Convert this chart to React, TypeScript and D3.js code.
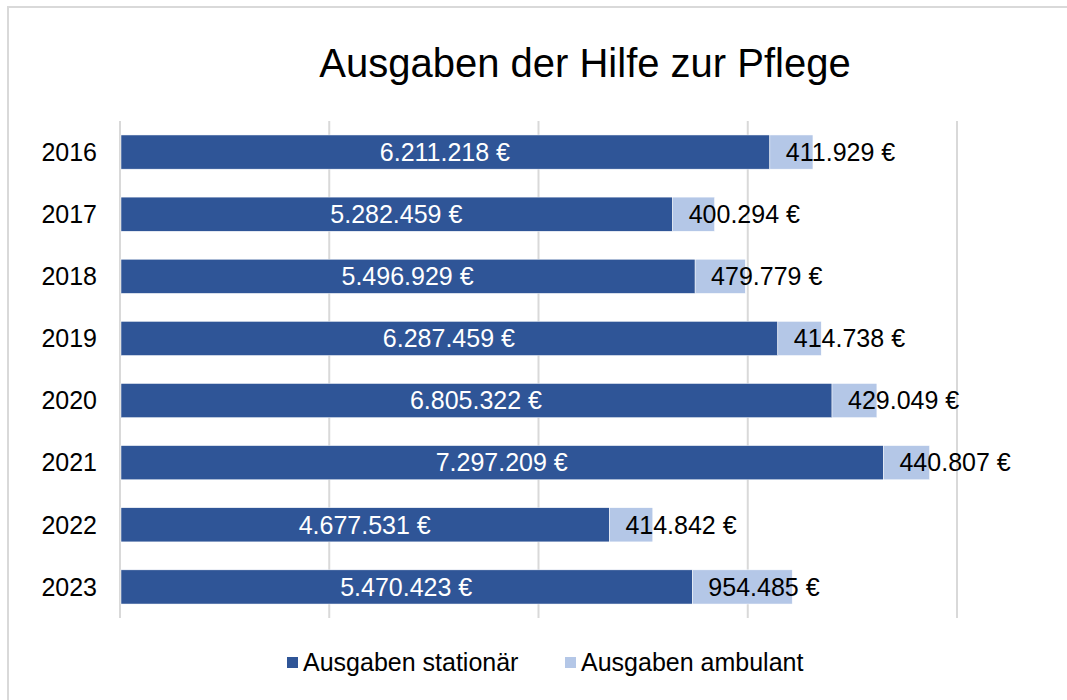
import React from "react";
import * as d3 from "d3";

// data
const years = ["2016", "2017", "2018", "2019", "2020", "2021", "2022", "2023"];
const stationaer = [6211218, 5282459, 5496929, 6287459, 6805322, 7297209, 4677531, 5470423];
const ambulant = [411929, 400294, 479779, 414738, 429049, 440807, 414842, 954485];
const gridTicks = [0, 2000000, 4000000, 6000000, 8000000];
const seriesNames = ["Ausgaben stationär", "Ausgaben ambulant"];
const colors = ["#2F5597", "#B4C7E7"];

const width = 1067;
const height = 700;
const font = "'Liberation Sans', Arial, sans-serif";

const fmt = (v: number) => d3.format(",")(v).replace(/,/g, ".") + " €";

export default function App() {
  const x = d3.scaleLinear().domain([0, 8000000]).range([120, 957]);
  const y = d3
    .scaleBand()
    .domain(years)
    .range([121, 618])
    .paddingInner(0.45)
    .paddingOuter(0.225);

  return (
    <svg
      width={width}
      height={height}
      style={{ position: "absolute", left: 0, top: 0, background: "#fff" }}
      fontFamily={font}
    >
      {/* chart border */}
      <rect x={8} y={7} width={width} height={height} fill="#fff" stroke="#D9D9D9" strokeWidth={2} />

      <text x={585} y={77} textAnchor="middle" fontSize={40} fill="#000">
        Ausgaben der Hilfe zur Pflege
      </text>

      {/* gridlines */}
      {gridTicks.map((t) => (
        <line key={t} x1={x(t)} x2={x(t)} y1={121} y2={618} stroke="#D9D9D9" strokeWidth={2} />
      ))}

      {years.map((yr, i) => {
        const yy = y(yr)!;
        const bh = y.bandwidth();
        const cy = yy + bh / 2;
        const s = stationaer[i];
        const a = ambulant[i];
        return (
          <g key={yr}>
            <rect x={x(0) + 1} y={yy} width={x(s) - x(0) - 1} height={bh} fill={colors[0]} stroke="#fff" strokeWidth={0.5} />
            <rect x={x(s)} y={yy} width={x(s + a) - x(s)} height={bh} fill={colors[1]} stroke="#fff" strokeWidth={0.5} />
            <text x={97} y={cy} dy="0.35em" textAnchor="end" fontSize={25} fill="#000">
              {yr}
            </text>
            <text x={(x(0) + x(s)) / 2} y={cy} dy="0.35em" textAnchor="middle" fontSize={25} fill="#fff">
              {fmt(s)}
            </text>
            <text x={x(s) + 16} y={cy} dy="0.35em" textAnchor="start" fontSize={25} fill="#000">
              {fmt(a)}
            </text>
          </g>
        );
      })}

      {/* legend */}
      {seriesNames.map((n, i) => {
        const lx = i === 0 ? 287 : 565;
        return (
          <g key={n}>
            <rect x={lx} y={657} width={11} height={11} fill={colors[i]} />
            <text x={lx + 16} y={662} dy="0.35em" fontSize={25} fill="#000">
              {n}
            </text>
          </g>
        );
      })}
    </svg>
  );
}
